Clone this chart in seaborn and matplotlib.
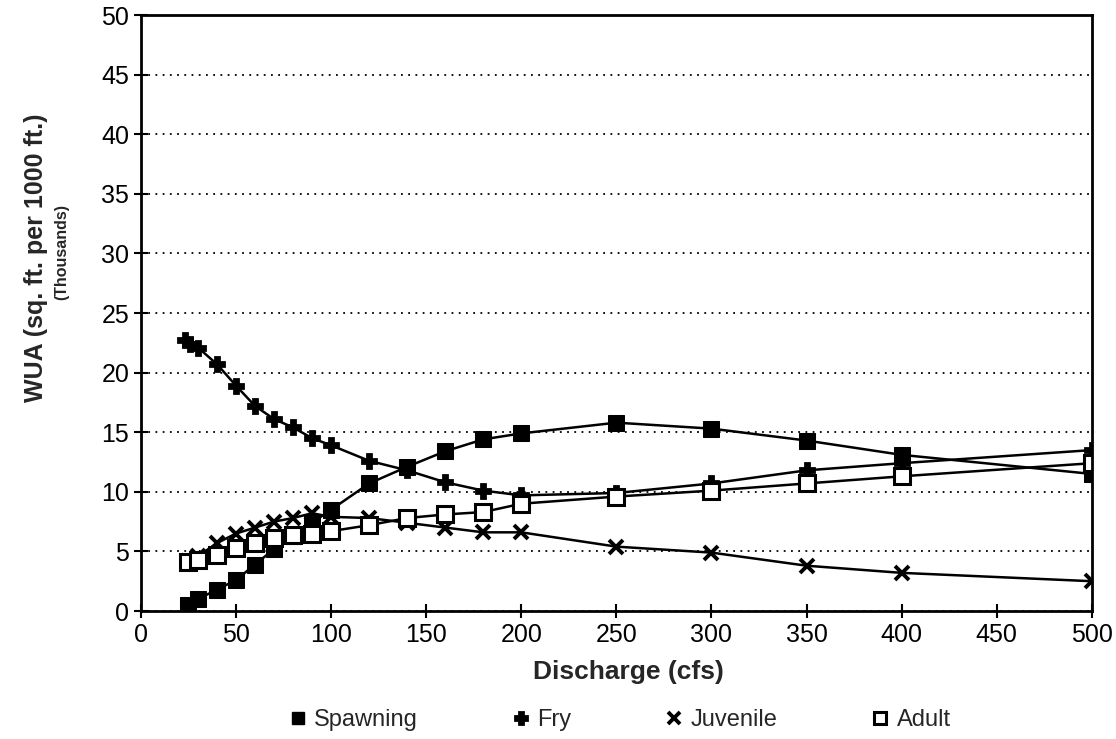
import numpy as np
import pandas as pd
import matplotlib
matplotlib.use("Agg")
import matplotlib.pyplot as plt
from matplotlib.lines import Line2D
import seaborn as sns

# ── data ─────────────────────────────────────────────────────────────────────
spawn_q = [25, 30, 40, 50, 60, 70, 80, 90, 100, 120, 140, 160, 180, 200, 250, 300, 350, 400, 500]
spawn_wua = [0.5, 1.0, 1.8, 2.6, 3.9, 5.2, 6.3, 7.4, 8.5, 10.7, 12.1, 13.4, 14.4, 14.9, 15.8, 15.3, 14.3, 13.1, 11.5]

fry_q = [23, 26, 30, 40, 50, 60, 70, 80, 90, 100, 120, 140, 160, 180, 200, 250, 300, 350, 400, 500]
fry_wua = [22.7, 22.4, 22.1, 20.7, 18.9, 17.2, 16.1, 15.4, 14.5, 13.9, 12.6, 11.8, 10.8, 10.1, 9.7, 9.9, 10.7, 11.8, 12.4, 13.5]

juv_q = [25, 30, 40, 50, 60, 70, 80, 90, 100, 120, 140, 160, 180, 200, 250, 300, 350, 400, 500]
juv_wua = [4.2, 4.6, 5.7, 6.5, 7.0, 7.5, 7.8, 8.2, 7.9, 7.8, 7.4, 7.0, 6.6, 6.6, 5.4, 4.9, 3.8, 3.2, 2.5]

adult_q = [25, 30, 40, 50, 60, 70, 80, 90, 100, 120, 140, 160, 180, 200, 250, 300, 350, 400, 500]
adult_wua = [4.1, 4.3, 4.7, 5.3, 5.7, 6.1, 6.4, 6.5, 6.7, 7.2, 7.8, 8.1, 8.3, 9.0, 9.6, 10.1, 10.7, 11.3, 12.4]

labels = ["Spawning", "Fry", "Juvenile", "Adult"]

sns.set_theme(style="white")
plt.rcParams["font.family"] = ["Liberation Sans", "DejaVu Sans"]

fig = plt.figure(figsize=(11.16, 7.39), dpi=100)
ax = fig.add_axes([0.1263, 0.1732, 0.852, 0.8065])

styles = {
    "Spawning": dict(marker="s", markersize=11, markerfacecolor="black", markeredgecolor="black"),
    "Fry": dict(marker="P", markersize=10, markerfacecolor="black", markeredgecolor="black",
                markeredgewidth=2),
    "Juvenile": dict(marker="x", markersize=10, markeredgewidth=2.8, markeredgecolor="black"),
    "Adult": dict(marker="s", markersize=11, markerfacecolor="white", markeredgecolor="black",
                  markeredgewidth=2.2),
}
series = {
    "Spawning": (spawn_q, spawn_wua),
    "Fry": (fry_q, fry_wua),
    "Juvenile": (juv_q, juv_wua),
    "Adult": (adult_q, adult_wua),
}

for name in labels:
    q, w = series[name]
    df = pd.DataFrame({"q": q, "wua": w})
    sns.lineplot(data=df, x="q", y="wua", ax=ax, color="black", linewidth=1.8,
                 legend=False, **styles[name])

ax.set_xlim(0, 500)
ax.set_ylim(0, 50)
ax.set_xticks(np.arange(0, 501, 50))
ax.set_yticks(np.arange(0, 51, 5))
ax.yaxis.grid(True, linestyle=(0, (1, 3)), color="black", linewidth=1.3)
ax.xaxis.grid(False)
for s in ax.spines.values():
    s.set_color("black")
    s.set_linewidth(2)
ax.tick_params(axis="both", direction="inout", length=10, width=1.5, colors="black",
               labelsize=18, left=True, bottom=True)

ax.set_xlabel("Discharge (cfs)", fontsize=19, fontweight="bold")
ax.xaxis.set_label_coords(0.513, -0.083)
ax.set_ylabel("")
fig.text(0.032, 0.651, "WUA (sq. ft. per 1000 ft.)", rotation=90, fontsize=18,
         fontweight="bold", ha="center", va="center")
fig.text(0.055, 0.659, "(Thousands)", rotation=90, fontsize=11.5, fontweight="bold",
         ha="center", va="center")

handles = [Line2D([], [], linestyle="none", color="black",
                  **{k: v for k, v in styles[n].items() if k != "markersize"},
                  markersize=8) for n in labels]
fig.legend(handles, labels, loc="center", bbox_to_anchor=(0.554, 0.026), ncol=4,
           frameon=False, fontsize=17, columnspacing=3.85, handletextpad=0.2,
           handlelength=1.0)

fig.savefig("out.png", dpi=100)
